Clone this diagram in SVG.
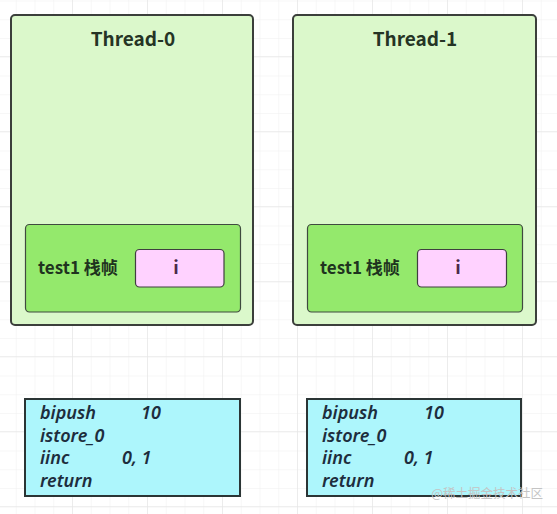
<svg xmlns="http://www.w3.org/2000/svg" width="557" height="514" viewBox="0 0 557 514">
<defs>
<pattern id="minor" x="15.75" y="0.5" width="18.75" height="18.75" patternUnits="userSpaceOnUse">
<path d="M0 0H18.75M0 0V18.75" fill="none" stroke="#efefef" stroke-width="1"/>
</pattern>
<pattern id="major" x="72" y="56" width="75" height="75" patternUnits="userSpaceOnUse">
<path d="M0 0H75M0 0V75" fill="none" stroke="#e2e2e2" stroke-width="1"/>
</pattern>
</defs>
<style>
.thread{fill:#dbf8cb;stroke:#3b3f3b;stroke-width:2}
.frame{fill:#94e96c;stroke:#3f4a3f;stroke-width:1.2}
.slot{fill:#ffd2ff;stroke:#3f3f3f;stroke-width:1.2}
.code{fill:#adf6fc;stroke:#2b3535;stroke-width:2}
.title{font-family:"Noto Sans CJK SC","Noto Sans",sans-serif;font-weight:bold;font-size:19px;fill:#253425}
.lbl{font-family:"Noto Sans CJK SC","Noto Sans",sans-serif;font-weight:bold;font-size:17px;fill:#1f341f}
.ivar{font-family:"Noto Sans CJK SC","Noto Sans",sans-serif;font-weight:bold;font-size:18px;fill:#4a2a4a}
.ins{font-family:"Noto Sans","Open Sans",sans-serif;font-style:italic;font-weight:600;font-size:18px;fill:#1d2d3d}
.wm{font-family:"Noto Sans CJK SC",sans-serif;font-size:12.5px;fill:#c4c4c4}
</style>
<rect width="557" height="514" fill="#ffffff"/>
<rect width="557" height="514" fill="url(#minor)"/>
<rect width="557" height="514" fill="url(#major)"/>

<g id="thread0">
<rect class="thread" x="11" y="15" width="242" height="310" rx="4"/>
<text class="title" x="133" y="46" text-anchor="middle">Thread-0</text>
</g>
<g id="frame0">
<rect class="frame" x="25.5" y="224.5" width="215" height="87.5" rx="4"/>
<text class="lbl" x="38" y="274">test1 栈帧</text>
</g>
<g id="slot0">
<rect class="slot" x="135.5" y="249.5" width="88.5" height="37.5" rx="4"/>
<text class="ivar" x="176" y="274" text-anchor="middle">i</text>
</g>

<g id="thread1">
<rect class="thread" x="293" y="15" width="243" height="310" rx="4"/>
<text class="title" x="415" y="46" text-anchor="middle">Thread-1</text>
</g>
<g id="frame1">
<rect class="frame" x="307.5" y="224.5" width="215" height="87.5" rx="4"/>
<text class="lbl" x="320" y="274">test1 栈帧</text>
</g>
<g id="slot1">
<rect class="slot" x="417.5" y="249.5" width="89" height="37.5" rx="4"/>
<text class="ivar" x="458" y="274" text-anchor="middle">i</text>
</g>

<g id="code0">
<rect class="code" x="25" y="399" width="215" height="97"/>
<text class="ins" x="40" y="419">bipush</text>
<text class="ins" x="141" y="419">10</text>
<text class="ins" x="40" y="442">istore_0</text>
<text class="ins" x="40" y="464">iinc</text>
<text class="ins" x="122" y="464">0, 1</text>
<text class="ins" x="40" y="487">return</text>
</g>

<g id="code1">
<rect class="code" x="307" y="399" width="214" height="97"/>
<text class="ins" x="322" y="419">bipush</text>
<text class="ins" x="424" y="419">10</text>
<text class="ins" x="322" y="442">istore_0</text>
<text class="ins" x="322" y="464">iinc</text>
<text class="ins" x="404" y="464">0, 1</text>
<text class="ins" x="322" y="487">return</text>
</g>

<g id="connectors"></g>

<text class="wm" x="543" y="498" text-anchor="end">@稀土掘金技术社区</text>
</svg>
